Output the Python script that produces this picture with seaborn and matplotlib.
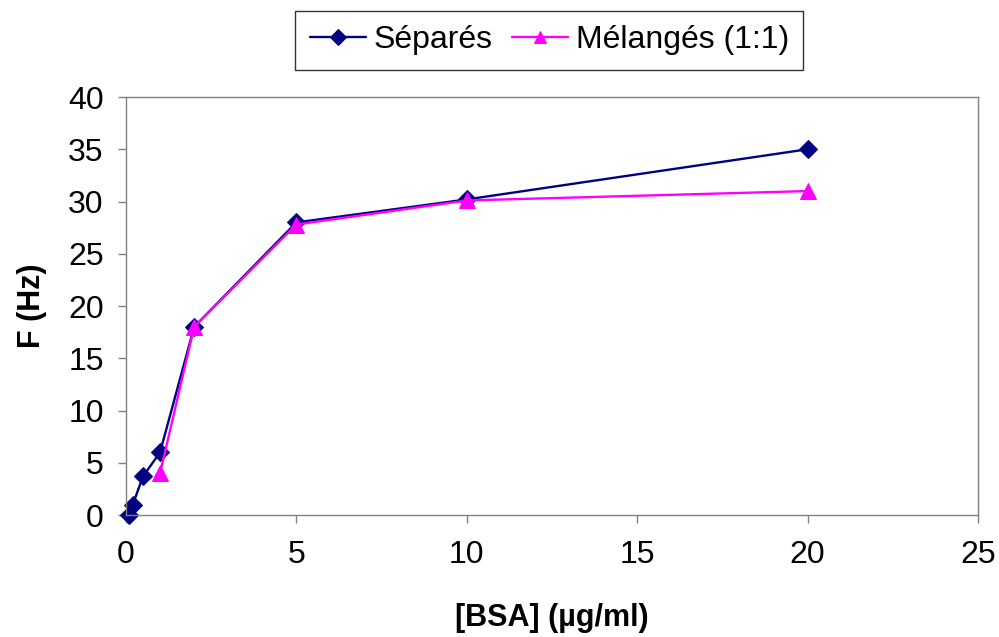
import matplotlib
matplotlib.use("Agg")
import matplotlib.pyplot as plt
import seaborn as sns
import pandas as pd

# BSA concentration (µg/ml) and resonance frequency shift (Hz)
bsa_separes = [0.1, 0.2, 0.5, 1, 2, 5, 10, 20]
f_separes = [0, 1, 3.7, 6, 18, 28, 30.2, 35]
bsa_melanges = [1, 2, 5, 10, 20]
f_melanges = [4, 18, 27.8, 30.1, 31]

series_names = ["Séparés", "Mélangés (1:1)"]
x_ticks = [0, 5, 10, 15, 20, 25]
y_ticks = [0, 5, 10, 15, 20, 25, 30, 35, 40]

sns.set_style("white")
plt.rcParams["font.family"] = ["Liberation Sans", "DejaVu Sans"]
plt.rcParams["text.color"] = "black"
plt.rcParams["axes.labelcolor"] = "black"
plt.rcParams["xtick.color"] = "black"
plt.rcParams["ytick.color"] = "black"

df_sep = pd.DataFrame({"x": bsa_separes, "y": f_separes})
df_mel = pd.DataFrame({"x": bsa_melanges, "y": f_melanges})

fig = plt.figure(figsize=(9.99, 6.37), dpi=100)
ax = fig.add_axes([0.1261, 0.1915, 0.979 - 0.1261, 0.8477 - 0.1915])

sns.lineplot(data=df_sep, x="x", y="y", ax=ax, color="#000080", marker="D",
             markersize=9, markeredgecolor="#000080", linewidth=1.7,
             sort=False, label=series_names[0], clip_on=False)
sns.lineplot(data=df_mel, x="x", y="y", ax=ax, color="#FF00FF", marker="^",
             markersize=11, markeredgecolor="#FF00FF", linewidth=1.7,
             sort=False, label=series_names[1], clip_on=False)

ax.set_xlim(0, 25)
ax.set_ylim(0, 40)
ax.set_xticks(x_ticks)
ax.set_yticks(y_ticks)
ax.tick_params(axis="both", direction="out", length=6, width=1, color="#808080",
               labelcolor="black", labelsize=23, bottom=True, left=True)
ax.tick_params(axis="x", pad=12)
ax.tick_params(axis="y", pad=10)
for sp in ax.spines.values():
    sp.set_color("#808080")
    sp.set_linewidth(1)

ax.set_xlabel("[BSA] (µg/ml)", fontsize=22, fontweight="bold", labelpad=24,
              color="black")
ax.set_ylabel("F (Hz)", fontsize=22, fontweight="bold", labelpad=15,
              color="black")

leg = ax.legend(loc="center", bbox_to_anchor=(0.497, 1.136), ncol=2, fontsize=23,
                frameon=True, fancybox=False, edgecolor="black", handlelength=1.75,
                handletextpad=0.25, columnspacing=0.6, borderpad=0.45,
                markerscale=0.85)
leg.get_frame().set_linewidth(1)
for t in leg.get_texts():
    t.set_color("black")

fig.savefig("out.png", dpi=100)
